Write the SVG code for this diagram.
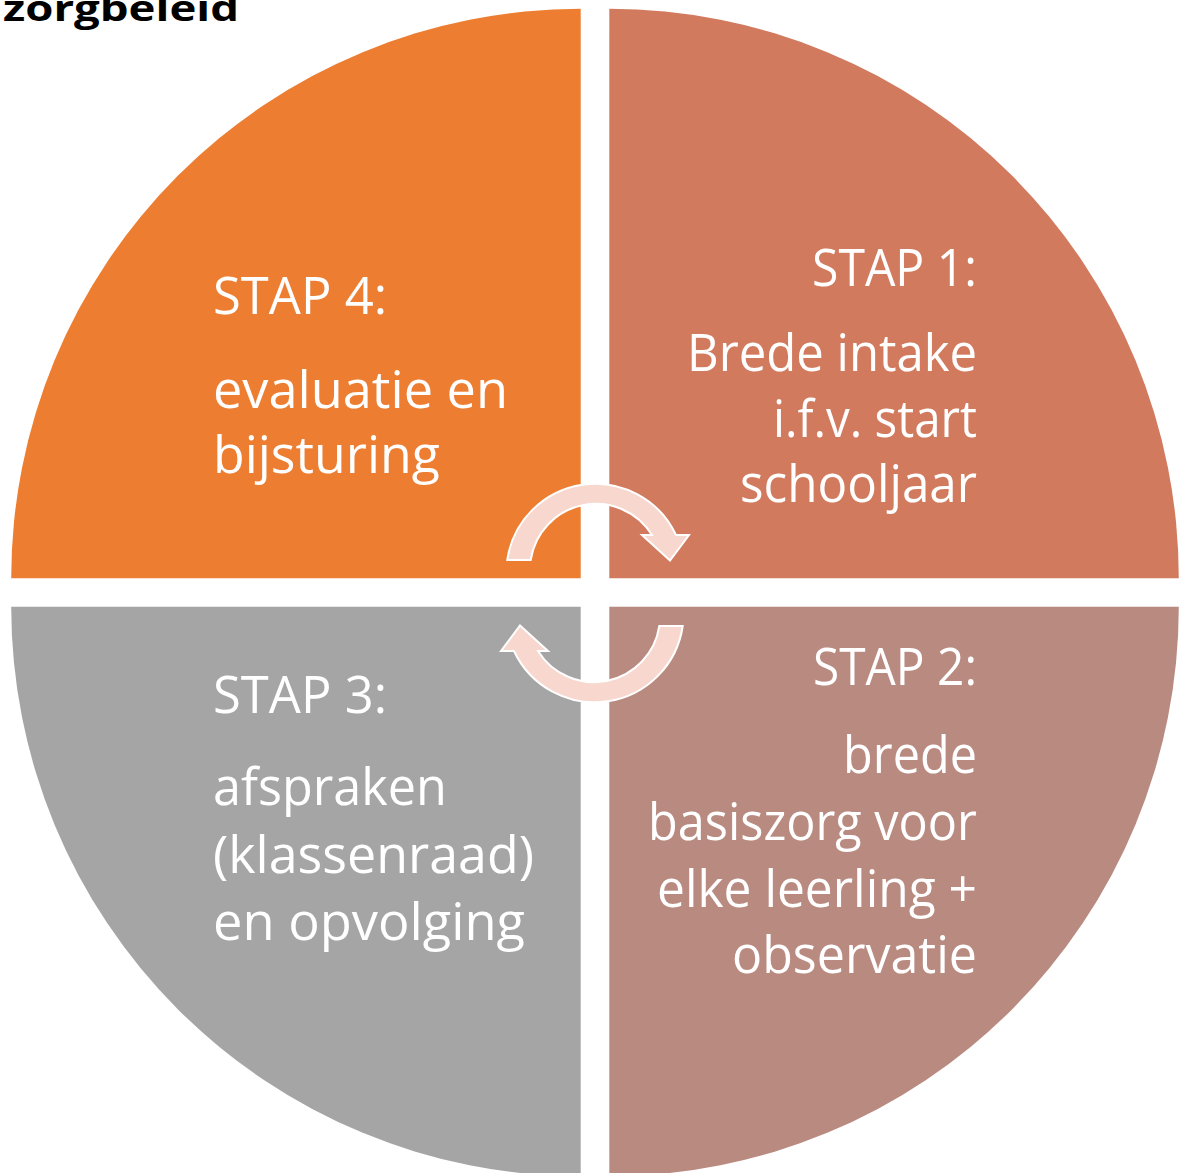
<svg xmlns="http://www.w3.org/2000/svg" width="1185" height="1173" viewBox="0 0 1185 1173">
<style>
.t{font-family:"Open Sans","Noto Sans","Liberation Sans",sans-serif;font-size:51px;fill:#ffffff}
.r{text-anchor:end}
.title{font-family:"Open Sans","Liberation Sans",sans-serif;font-weight:bold;font-size:36px;fill:#000000}
.arrow{fill:#F8D8CE;stroke:#ffffff;stroke-width:2;stroke-linejoin:miter}
</style>
<rect width="1185" height="1173" fill="#ffffff"/>
<text class="title" x="3" y="21" textLength="236" lengthAdjust="spacingAndGlyphs">zorgbeleid</text>

<g id="stap4">
<path d="M580.7 578.3 L11.2 578.3 A569.5 569.5 0 0 1 580.7 8.8 Z" fill="#ED7D31"/>
<text class="t" x="213" y="314" textLength="174" lengthAdjust="spacingAndGlyphs">STAP 4:</text>
<text class="t" x="213" y="408" textLength="295" lengthAdjust="spacingAndGlyphs">evaluatie en</text>
<text class="t" x="213" y="473" textLength="227" lengthAdjust="spacingAndGlyphs">bijsturing</text>
</g>

<g id="stap1">
<path d="M609.3 578.3 L609.3 8.8 A569.5 569.5 0 0 1 1178.8 578.3 Z" fill="#D17A5E"/>
<text class="t r" x="977" y="286" textLength="165" lengthAdjust="spacingAndGlyphs">STAP 1:</text>
<text class="t r" x="977" y="371" textLength="290" lengthAdjust="spacingAndGlyphs">Brede intake</text>
<text class="t r" x="977" y="437" textLength="204" lengthAdjust="spacingAndGlyphs">i.f.v. start</text>
<text class="t r" x="977" y="502" textLength="237" lengthAdjust="spacingAndGlyphs">schooljaar</text>
</g>

<g id="stap2">
<path d="M609.3 606.7 L1178.8 606.7 A569.5 569.5 0 0 1 609.3 1176.2 Z" fill="#B98A80"/>
<text class="t r" x="977" y="685" textLength="164" lengthAdjust="spacingAndGlyphs">STAP 2:</text>
<text class="t r" x="977" y="773" textLength="134" lengthAdjust="spacingAndGlyphs">brede</text>
<text class="t r" x="977" y="840" textLength="329" lengthAdjust="spacingAndGlyphs">basiszorg voor</text>
<text class="t r" x="977" y="907" textLength="320" lengthAdjust="spacingAndGlyphs">elke leerling +</text>
<text class="t r" x="977" y="973" textLength="245" lengthAdjust="spacingAndGlyphs">observatie</text>
</g>

<g id="stap3">
<path d="M580.7 606.7 L580.7 1176.2 A569.5 569.5 0 0 1 11.2 606.7 Z" fill="#A5A5A5"/>
<text class="t" x="213" y="713" textLength="174" lengthAdjust="spacingAndGlyphs">STAP 3:</text>
<text class="t" x="213" y="805" textLength="234" lengthAdjust="spacingAndGlyphs">afspraken</text>
<text class="t" x="213" y="873" textLength="321" lengthAdjust="spacingAndGlyphs">(klassenraad)</text>
<text class="t" x="213" y="940" textLength="312" lengthAdjust="spacingAndGlyphs">en opvolging</text>
</g>

<g id="connectors">
<path id="arrow-top" class="arrow" d="M507.3 560 A89 89 0 0 1 676 535 L689 535 L670 560.5 L642 535 L652 535 A66 66 0 0 0 530.7 560 Z"/>
<path id="arrow-bottom" class="arrow" transform="rotate(180 595 593)" d="M507.3 560 A89 89 0 0 1 676 535 L689 535 L670 560.5 L642 535 L652 535 A66 66 0 0 0 530.7 560 Z"/>
</g>
</svg>
